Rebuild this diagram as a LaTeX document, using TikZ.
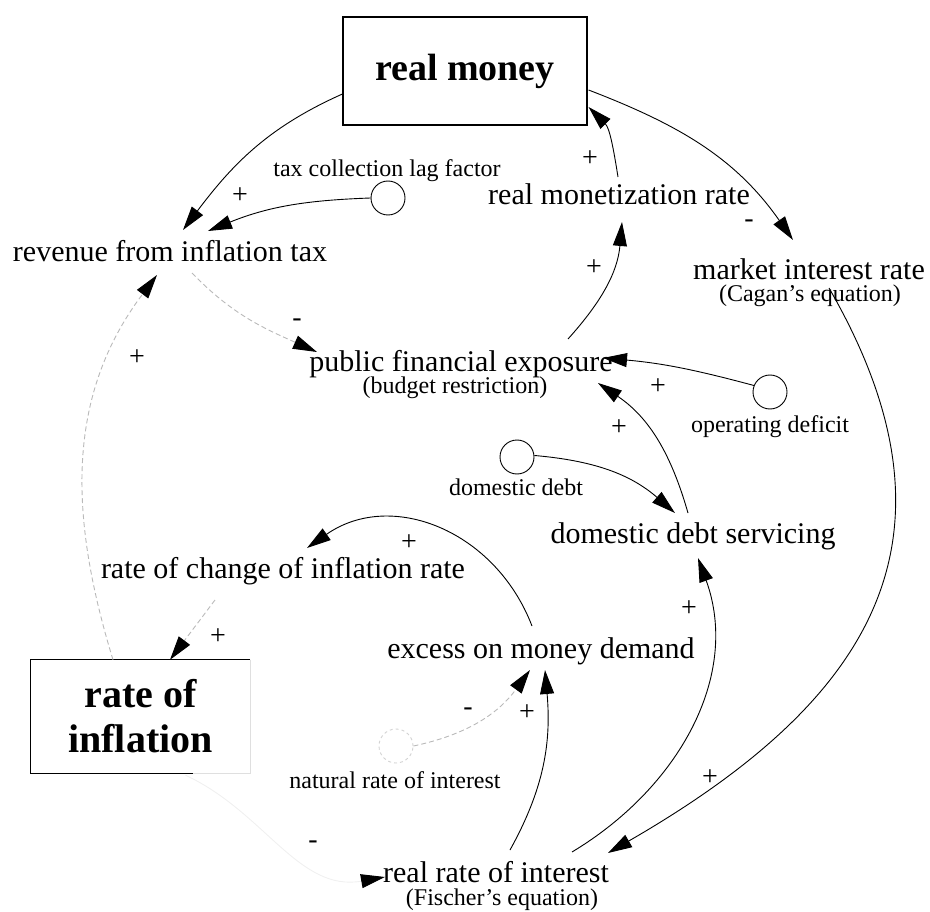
\documentclass[tikz,border=0pt]{standalone}
\usepackage{fontspec}
\setmainfont{Liberation Serif}
\usetikzlibrary{arrows.meta}
\begin{document}
\begin{tikzpicture}[x=1pt,y=-1pt,
  big/.style={font=\fontsize{30}{34}\selectfont, inner sep=0pt, anchor=base},
  sml/.style={font=\fontsize{24}{28}\selectfont, inner sep=0pt, anchor=base},
  sgn/.style={font=\fontsize{28}{32}\selectfont, inner sep=0pt},
  stockbox/.style={inner sep=0pt, align=center},
  boxline/.style={line width=1.1pt},
  cloudc/.style={draw, circle, minimum size=34pt, inner sep=0pt, line width=0.9pt},
  link/.style={line width=0.9pt, -{Triangle[length=24pt,width=14pt,color=black]}},
  faint/.style={link, draw=gray!55, dash pattern=on 5pt off 3pt},
  ghost/.style={link, draw=gray!12},
]
\useasboundingbox (0,0) rectangle (930,912);

% stocks
\node[stockbox, draw, boxline, minimum width=244pt, minimum height=108pt,
      font=\bfseries\fontsize{38}{44}\selectfont] (rm) at (465,71) {real money};
\node[stockbox, minimum width=219pt, minimum height=113pt,
      font=\bfseries\fontsize{40}{45}\selectfont] (ri) at (140.5,716.5) {rate of\\inflation};
\draw[boxline] (ri.north east) -- (ri.north west) -- (ri.south west) -- ([shift={(162,0)}]ri.south west);
\draw[boxline, gray!25] ([shift={(162,0)}]ri.south west) -- (ri.south east) -- (ri.north east);

% variables
\node[big] (rev) at (170,262) {revenue from inflation tax};
\node[sml] (tax) at (387,177) {tax collection lag factor};
\node[cloudc] (taxc) at (388,198) {};
\node[big] (rmr) at (619,205) {real monetization rate};
\node[big] (mir) at (809,280) {market interest rate};
\node[sml] (cag) at (810,302) {(Cagan's equation)};
\node[big] (pfe) at (461,371) {public financial exposure};
\node[sml] (bud) at (455,393) {(budget restriction)};
\node[cloudc] (opc) at (770,392) {};
\node[sml] (opd) at (770,432) {operating deficit};
\node[cloudc] (ddc) at (517,457) {};
\node[sml] (ddl) at (516,495) {domestic debt};
\node[big] (dds) at (693,543) {domestic debt servicing};
\node[big] (rci) at (283,578) {rate of change of inflation rate};
\node[big] (emd) at (541,658) {excess on money demand};
\node[cloudc, draw=gray!35, dashed] (nrc) at (396,746) {};
\node[sml] (nri) at (395,788) {natural rate of interest};
\node[big] (rri) at (496,882) {real rate of interest};
\node[sml] (fis) at (502,905) {(Fischer's equation)};

% polarity signs
\node[sgn] (p1) at (240,196) {+};
\node[sgn] (p2) at (590,159) {+};
\node[sgn] (p3) at (594,268) {+};
\node[sgn] (p4) at (137,358) {+};
\node[sgn] (p5) at (658,387) {+};
\node[sgn] (p6) at (619,428) {+};
\node[sgn] (p7) at (409,543) {+};
\node[sgn] (p8) at (218,637) {+};
\node[sgn] (p9) at (689,609) {+};
\node[sgn] (p10) at (527,713) {+};
\node[sgn] (p11) at (710,778) {+};
\node[sgn] (m1) at (749,224) {-};
\node[sgn] (m2) at (297,323) {-};
\node[sgn] (m3) at (468,712) {-};
\node[sgn] (m4) at (313,845) {-};

% links
\draw[link] ([shift={(0,23)}]rm.west) to[out=204,in=53] ([shift={(13,-32)}]rev.base);
\draw[link] (taxc.west) to[out=182,in=22] ([shift={(38,-31)}]rev.base);
\draw[faint] ([shift={(22,11)}]rev.base) to[out=314,in=156] ([shift={(-144,-19)}]pfe.base);
\draw[faint] ([shift={(-27.5,0)}]ri.north) to[out=107,in=233] ([shift={(-13,13)}]rev.base);
\draw[link] ([shift={(107,-32)}]pfe.base) to[out=48,in=265] ([shift={(3,17)}]rmr.base);
\draw[link] ([shift={(-1,-28)}]rmr.base) to[out=99,in=315] ([shift={(1,36)}]rm.east);
\draw[link] ([shift={(1,19)}]rm.east) to[out=339,in=125] ([shift={(-16,-40)}]mir.base);
\draw[link] (opc.158) to[out=165,in=-5] ([shift={(142,-13)}]pfe.base);
\draw[link] (ddc.5) to[out=-5,in=139] ([shift={(-18,-30)}]dds.base);
\draw[link] ([shift={(-5,-30)}]dds.base) to[out=106,in=326] ([shift={(137,12)}]pfe.base);
\draw[link] ([shift={(-9,-32)}]emd.base) to[out=111,in=35,looseness=1.1] ([shift={(24,-30)}]rci.base);
\draw[faint] ([shift={(-68,22)}]rci.base) -- ([shift={(29.5,0)}]ri.north);
\draw[ghost] ([shift={(45,2)}]ri.south) to[out=-25,in=190] ([shift={(-111,-5)}]rri.base);
\draw[faint] (nrc.east) to[out=12,in=234] ([shift={(-11,12)}]emd.base);
\draw[link] ([shift={(14,-32)}]rri.base) to[out=61,in=275] ([shift={(4,12)}]emd.base);
\draw[link] ([shift={(76,-30)}]rri.base) to[out=31,in=290] ([shift={(5,15)}]dds.base);
\draw[link] ([shift={(20,8)}]mir.base) to[out=300,in=30,looseness=1.25] ([shift={(112,-29)}]rri.base);
\end{tikzpicture}
\end{document}
